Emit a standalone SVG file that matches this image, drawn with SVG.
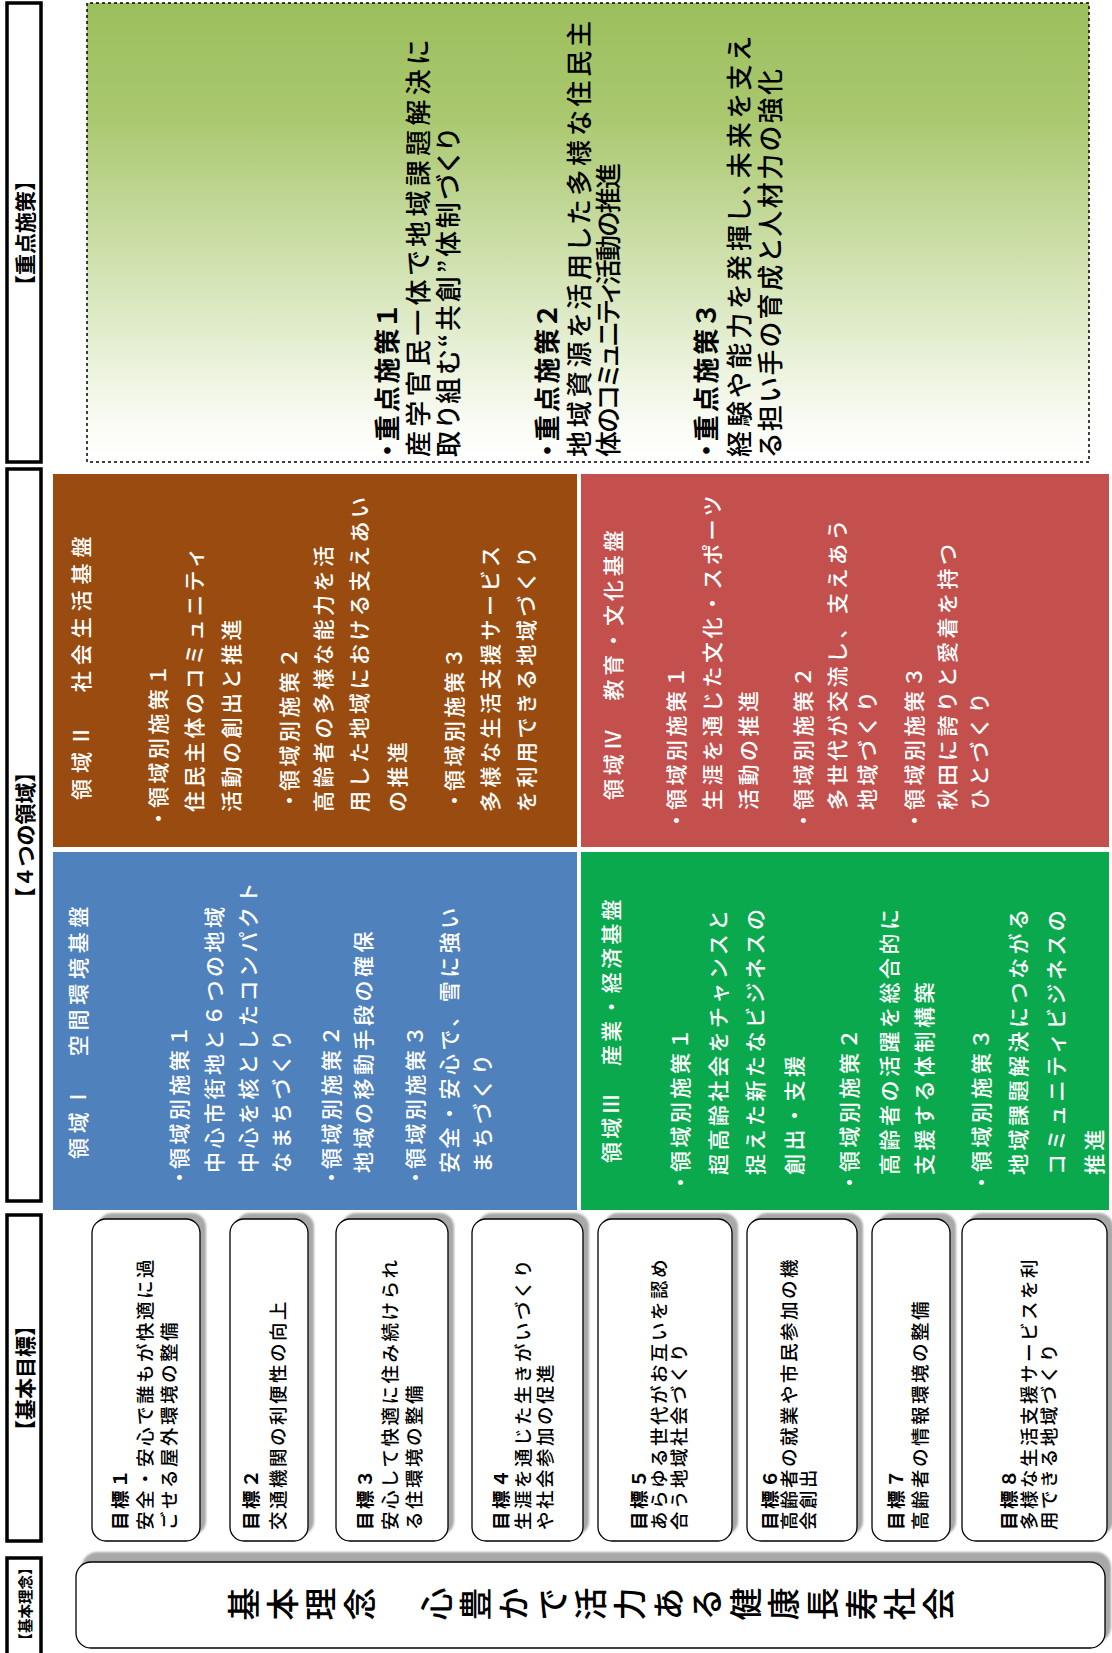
<svg xmlns="http://www.w3.org/2000/svg" width="1112" height="1653" viewBox="0 0 1112 1653">
<defs>
<style>
text{font-family:"Noto Sans CJK JP","Noto Sans",sans-serif}
.hdr{fill:#fff;stroke:#000;stroke-width:3.5}
.hl{font-size:21px;font-weight:bold;text-anchor:middle;dominant-baseline:central}
.gbox{fill:#fff;stroke:#000;stroke-width:1.3}
.gsh{fill:#a8a8a8}
.gt{font-size:18.5px;letter-spacing:2.5px;dominant-baseline:central;fill:#000;font-weight:500}
.gb{font-weight:bold}
.dt{font-size:21px;fill:#fff;letter-spacing:3.5px;dominant-baseline:central;font-weight:500}
.kt{font-size:26px;dominant-baseline:central;fill:#000;font-feature-settings:"palt" 1;font-weight:500}
.kb{font-weight:bold}
</style>
<linearGradient id="kg" x1="0" y1="0" x2="1" y2="0">
<stop offset="0" stop-color="#ffffff"/>
<stop offset="0.08" stop-color="#fafcf5"/>
<stop offset="0.4" stop-color="#d4e4b6"/>
<stop offset="0.75" stop-color="#aac86f"/>
<stop offset="1" stop-color="#9cbf5d"/>
</linearGradient>
<filter id="sb" x="-0.1" y="-0.1" width="1.2" height="1.2"><feGaussianBlur stdDeviation="1.2"/></filter>
</defs>
<rect width="1112" height="1653" fill="#fff"/>
<g transform="translate(0,1653) rotate(-90)">

<g id="headers">
<rect class="hdr" x="-20" y="7" width="115" height="34"/>
<text class="hl" x="49" y="24" style="font-size:14.5px">【基本理念】</text>
<rect class="hdr" x="112" y="7" width="326" height="34"/>
<text class="hl" x="275" y="24">【基本目標】</text>
<rect class="hdr" x="452" y="7" width="732" height="34"/>
<text class="hl" x="818" y="24">【４つの領域】</text>
<rect class="hdr" x="1191" y="7" width="459" height="34"/>
<text class="hl" x="1420" y="24">【重点施策】</text>
</g>

<g id="rinen">
<rect class="gsh" x="11" y="82" width="90" height="1029" rx="15" filter="url(#sb)"/>
<rect class="gbox" x="5" y="76" width="86" height="1029" rx="15"/>
<text x="49" y="227" font-size="33" letter-spacing="5.6" font-weight="500" style="writing-mode:vertical-rl">基本理念　心豊かで活力ある健康長寿社会</text>
</g>

<g id="goal1">
<rect class="gsh" x="118" y="98" width="322" height="108" rx="14" filter="url(#sb)"/>
<rect class="gbox" x="112" y="92" width="322" height="108" rx="14"/>
<text class="gt gb" x="123" y="119">目標１</text>
<text class="gt" x="123" y="144">安全・安心で誰もが快適に過</text>
<text class="gt" x="123" y="168">ごせる屋外環境の整備</text>
</g>
<g id="goal2">
<rect class="gsh" x="118" y="236" width="322" height="78" rx="14" filter="url(#sb)"/>
<rect class="gbox" x="112" y="230" width="322" height="78" rx="14"/>
<text class="gt gb" x="123" y="250">目標２</text>
<text class="gt" x="123" y="277">交通機関の利便性の向上</text>
</g>
<g id="goal3">
<rect class="gsh" x="118" y="342" width="322" height="112" rx="14" filter="url(#sb)"/>
<rect class="gbox" x="112" y="336" width="322" height="112" rx="14"/>
<text class="gt gb" x="123" y="364">目標３</text>
<text class="gt" x="123" y="389">安心して快適に住み続けられ</text>
<text class="gt" x="123" y="413">る住環境の整備</text>
</g>
<g id="goal4">
<rect class="gsh" x="118" y="478" width="322" height="111" rx="14" filter="url(#sb)"/>
<rect class="gbox" x="112" y="472" width="322" height="111" rx="14"/>
<text class="gt gb" x="123" y="500">目標４</text>
<text class="gt" x="123" y="522">生涯を通じた生きがいづくり</text>
<text class="gt" x="123" y="544">や社会参加の促進</text>
</g>
<g id="goal5">
<rect class="gsh" x="118" y="604" width="322" height="134" rx="14" filter="url(#sb)"/>
<rect class="gbox" x="112" y="598" width="322" height="134" rx="14"/>
<text class="gt gb" x="123" y="638">目標５</text>
<text class="gt" x="123" y="658">あらゆる世代がお互いを認め</text>
<text class="gt" x="123" y="678">合う地域社会づくり</text>
</g>
<g id="goal6">
<rect class="gsh" x="118" y="753" width="322" height="110" rx="14" filter="url(#sb)"/>
<rect class="gbox" x="112" y="747" width="322" height="110" rx="14"/>
<text class="gt gb" x="123" y="769">目標６</text>
<text class="gt" x="123" y="788">高齢者の就業や市民参加の機</text>
<text class="gt" x="123" y="807">会創出</text>
</g>
<g id="goal7">
<rect class="gsh" x="118" y="878" width="322" height="78" rx="14" filter="url(#sb)"/>
<rect class="gbox" x="112" y="872" width="322" height="78" rx="14"/>
<text class="gt gb" x="123" y="895">目標７</text>
<text class="gt" x="123" y="919">高齢者の情報環境の整備</text>
</g>
<g id="goal8">
<rect class="gsh" x="118" y="968" width="322" height="145" rx="14" filter="url(#sb)"/>
<rect class="gbox" x="112" y="962" width="322" height="145" rx="14"/>
<text class="gt gb" x="123" y="1008">目標８</text>
<text class="gt" x="123" y="1028">多様な生活支援サービスを利</text>
<text class="gt" x="123" y="1048">用できる地域づくり</text>
</g>

<g id="area1">
<rect x="443" y="53" width="358" height="524" fill="#4f81bd"/>
<text class="dt" x="494" y="77" textLength="256" lengthAdjust="spacing">領域Ⅰ　空間環境基盤</text>
<text class="dt" x="465" y="178">・</text>
<text class="dt" x="484" y="178">領域別施策１</text>
<text class="dt" x="480" y="213">中心市街地と６つの地域</text>
<text class="dt" x="480" y="247">中心を核としたコンパクト</text>
<text class="dt" x="480" y="280">なまちづくり</text>
<text class="dt" x="465" y="330">・</text>
<text class="dt" x="484" y="330">領域別施策２</text>
<text class="dt" x="480" y="362">地域の移動手段の確保</text>
<text class="dt" x="465" y="414">・</text>
<text class="dt" x="484" y="414">領域別施策３</text>
<text class="dt" x="480" y="448">安全・安心で、雪に強い</text>
<text class="dt" x="480" y="481">まちづくり</text>
</g>

<g id="area2">
<rect x="806" y="53" width="373" height="524" fill="#9a4c10"/>
<text class="dt" x="853" y="80" textLength="267" lengthAdjust="spacing">領域Ⅱ　社会生活基盤</text>
<text class="dt" x="824" y="157">・</text>
<text class="dt" x="845" y="157">領域別施策１</text>
<text class="dt" x="841" y="193">住民主体のコミュニティ</text>
<text class="dt" x="841" y="230">活動の創出と推進</text>
<text class="dt" x="842" y="288">・</text>
<text class="dt" x="862" y="288">領域別施策２</text>
<text class="dt" x="841" y="322">高齢者の多様な能力を活</text>
<text class="dt" x="841" y="358">用した地域における支えあい</text>
<text class="dt" x="841" y="396">の推進</text>
<text class="dt" x="842" y="453">・</text>
<text class="dt" x="862" y="453">領域別施策３</text>
<text class="dt" x="841" y="489">多様な生活支援サービス</text>
<text class="dt" x="841" y="525">を利用できる地域づくり</text>
</g>

<g id="area3">
<rect x="443" y="581" width="358" height="528" fill="#0aa94e"/>
<text class="dt" x="490" y="610" textLength="267" lengthAdjust="spacing">領域Ⅲ　産業・経済基盤</text>
<text class="dt" x="460" y="679">・</text>
<text class="dt" x="481" y="679">領域別施策１</text>
<text class="dt" x="478" y="717">超高齢社会をチャンスと</text>
<text class="dt" x="478" y="754">捉えた新たなビジネスの</text>
<text class="dt" x="478" y="793">創出・支援</text>
<text class="dt" x="460" y="848">・</text>
<text class="dt" x="481" y="848">領域別施策２</text>
<text class="dt" x="478" y="888">高齢者の活躍を総合的に</text>
<text class="dt" x="478" y="923">支援する体制構築</text>
<text class="dt" x="460" y="980">・</text>
<text class="dt" x="481" y="980">領域別施策３</text>
<text class="dt" x="478" y="1017">地域課題解決につながる</text>
<text class="dt" x="478" y="1055">コミュニティビジネスの</text>
<text class="dt" x="478" y="1093">推進</text>
</g>

<g id="area4">
<rect x="806" y="581" width="373" height="528" fill="#c4504e"/>
<text class="dt" x="853" y="612" textLength="273" lengthAdjust="spacing">領域Ⅳ　教育・文化基盤</text>
<text class="dt" x="822" y="675">・</text>
<text class="dt" x="843" y="675">領域別施策１</text>
<text class="dt" x="843" y="711">生涯を通じた文化・スポーツ</text>
<text class="dt" x="843" y="747">活動の推進</text>
<text class="dt" x="822" y="802">・</text>
<text class="dt" x="843" y="802">領域別施策２</text>
<text class="dt" x="843" y="836">多世代が交流し、支えあう</text>
<text class="dt" x="843" y="866">地域づくり</text>
<text class="dt" x="822" y="913">・</text>
<text class="dt" x="843" y="913">領域別施策３</text>
<text class="dt" x="843" y="946">秋田に誇りと愛着を持つ</text>
<text class="dt" x="843" y="978">ひとづくり</text>
</g>

<g id="jyuten">
<rect x="1191" y="87" width="459" height="1002" fill="url(#kg)" stroke="#000" stroke-width="1.5" stroke-dasharray="3,3"/>
<text class="kt kb" x="1196" y="385" textLength="151" lengthAdjust="spacing">・重点施策１</text>
<text class="kt" x="1196" y="416" textLength="417" lengthAdjust="spacing">産学官民一体で地域課題解決に</text>
<text class="kt" x="1196" y="446" textLength="328" lengthAdjust="spacing">取り組む“共創”体制づくり</text>
<text class="kt kb" x="1196" y="545" textLength="151" lengthAdjust="spacing">・重点施策２</text>
<text class="kt" x="1196" y="577" textLength="436" lengthAdjust="spacing">地域資源を活用した多様な住民主</text>
<text class="kt" x="1196" y="606" textLength="294" lengthAdjust="spacing">体のコミュニティ活動の推進</text>
<text class="kt kb" x="1196" y="704" textLength="151" lengthAdjust="spacing">・重点施策３</text>
<text class="kt" x="1196" y="737" textLength="420" lengthAdjust="spacing">経験や能力を発揮し、未来を支え</text>
<text class="kt" x="1196" y="768" textLength="388" lengthAdjust="spacing">る担い手の育成と人材力の強化</text>
</g>

</g>
</svg>
